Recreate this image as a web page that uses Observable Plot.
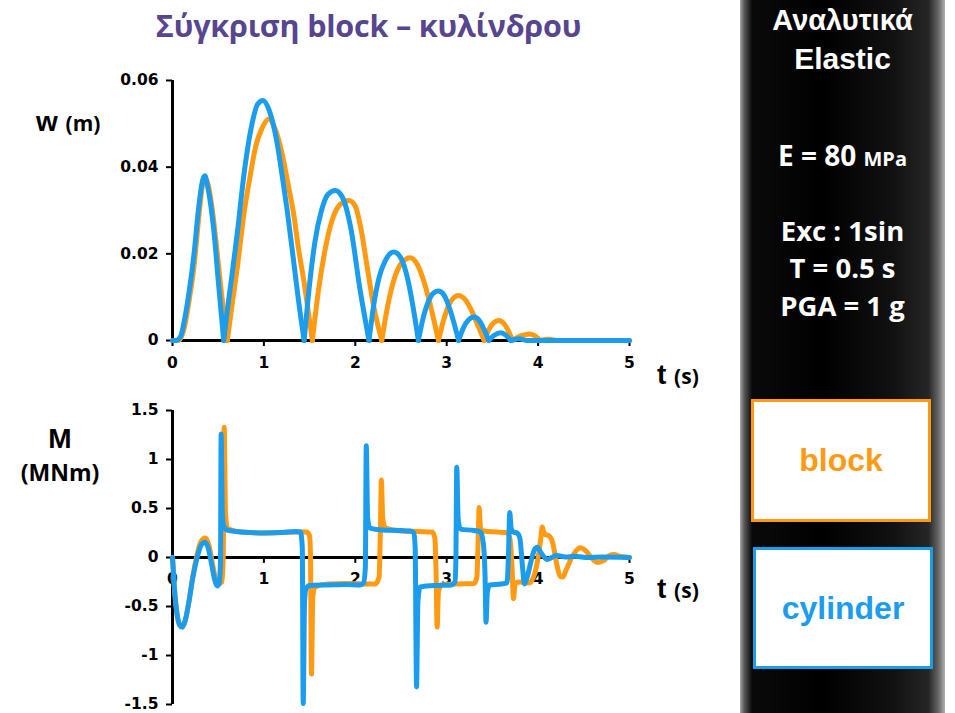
<!DOCTYPE html>
<html>
<head>
<meta charset="utf-8">
<script src="https://cdn.jsdelivr.net/npm/d3@7"></script>
<script src="https://cdn.jsdelivr.net/npm/@observablehq/plot@0.6"></script>
<style>
  html, body { margin: 0; padding: 0; background: #fff; }
  #page { position: relative; width: 955px; height: 713px; overflow: hidden; background: #fff; }
  .abs { position: absolute; white-space: nowrap; }
  #title { left: 0; width: 737px; top: 4px; text-align: center; font-family: "Open Sans", "Noto Sans", sans-serif; font-weight: 700; font-size: 30.5px; color: #574590; letter-spacing: -0.2px; }
  .axlab { font-family: "Liberation Sans", Arial, sans-serif; font-weight: 700; color: #000; }
  .axlab .u { font-family: "Open Sans", sans-serif; font-size: 21px; }
  .plotwrap svg text { font-size: 15.5px; font-weight: 700; font-family: "DejaVu Sans", "Liberation Sans", Arial, sans-serif; fill: #000; }
  #panel { left: 740px; top: 0; width: 205px; height: 713px;
    background: linear-gradient(to right, #a8a8a8 0px, #5a5a5a 4px, #0a0a0a 12px, #000 40%, #111 75%, #262626 92%, #6a6a6a 97%, #b0b0b0 100%); }
  .ptxt { position: absolute; left: 0; width: 205px; text-align: center; color: #fff; font-weight: 700; white-space: nowrap; }
  .arial { font-family: "Liberation Sans", Arial, sans-serif; }
  .cal { font-family: "Open Sans", "Noto Sans", sans-serif; }
  .box { position: absolute; background: #fff; box-sizing: border-box; border: 3px solid; display: flex; align-items: center; justify-content: center; font-family: "Liberation Sans", Arial, sans-serif; font-weight: 700; font-size: 32px; }
</style>
</head>
<body>
<div id="page">
  <div id="title" class="abs">Σύγκριση block – κυλίνδρου</div>

  <div id="topPlot" class="abs plotwrap" style="left:0; top:60px;"></div>
  <div id="botPlot" class="abs plotwrap" style="left:0; top:390px;"></div>

  <div class="abs axlab" style="left:36px; top:106px; font-size:28px;">w <span class="u">(m)</span></div>
  <div class="abs axlab" style="left:657px; top:359px; font-size:28px;">t <span class="u">(s)</span></div>
  <div class="abs axlab" style="left:657px; top:573px; font-size:28px;">t <span class="u">(s)</span></div>
  <div class="abs axlab" style="left:0; width:120px; text-align:center; top:423px; font-size:28px;">M</div>
  <div class="abs axlab" style="left:0; width:120px; text-align:center; top:456px;"><span class="u" style="font-size:23px;">(MNm)</span></div>

  <div id="panel" class="abs">
    <div class="ptxt arial" style="top:4px; font-size:29px;">Αναλυτικά</div>
    <div class="ptxt arial" style="top:42px; font-size:30px;">Elastic</div>
    <div class="ptxt cal" style="top:136px; font-size:28px;">E = 80 <span style="font-size:20px;">MPa</span></div>
    <div class="ptxt cal" style="top:212px; font-size:27.5px;">Exc : 1sin</div>
    <div class="ptxt cal" style="top:249px; font-size:27.5px;">T = 0.5 s</div>
    <div class="ptxt cal" style="top:287px; font-size:27.5px;">PGA = 1 g</div>
  </div>
  <div id="boxBlock" class="box" style="left:751px; top:399px; width:180px; height:123px;"></div>
  <div id="boxCyl" class="box" style="left:753px; top:547px; width:180px; height:122px;"></div>
</div>

<script>
// ---------- data ----------
const seriesNames = ["block", "cylinder"];
const seriesColors = ["#FF9A12", "#1C9CEC"];

const xTicks = [0, 1, 2, 3, 4, 5];
const xTickLabels = ["0", "1", "2", "3", "4", "5"];
const wTicks = [0, 0.02, 0.04, 0.06];
const wTickLabels = ["0", "0.02", "0.04", "0.06"];
const mTicks = [-1.5, -1, -0.5, 0, 0.5, 1, 1.5];
const mTickLabels = ["-1.5", "-1", "-0.5", "0", "0.5", "1", "1.5"];

// displacement w (m) — each inner list is one rocking half-cycle (arch)
const blockW = [
  [[0,0],[0.06,0],[0.1,0.001],[0.13,0.003],[0.18,0.009],[0.24,0.018],[0.29,0.029],[0.33,0.036],[0.36,0.0375],[0.39,0.036],[0.43,0.031],[0.47,0.024],[0.53,0.012],[0.60,0]],
  [[0.60,0],[0.65,0.008],[0.71,0.017],[0.78,0.029],[0.85,0.038],[0.908,0.0446],[0.98,0.049],[1.054,0.0511],[1.12,0.049],[1.2,0.043],[1.265,0.036],[1.327,0.029],[1.38,0.021],[1.437,0.0138],[1.49,0.006],[1.53,0]],
  [[1.53,0],[1.6,0.012],[1.67,0.021],[1.75,0.028],[1.84,0.0315],[1.93,0.0323],[2.0,0.031],[2.06,0.026],[2.13,0.017],[2.2,0.008],[2.29,0]],
  [[2.29,0],[2.35,0.0075],[2.42,0.0138],[2.51,0.018],[2.60,0.0191],[2.68,0.0175],[2.76,0.013],[2.84,0.0065],[2.91,0]],
  [[2.91,0],[2.97,0.005],[3.03,0.0085],[3.13,0.0104],[3.2,0.0095],[3.27,0.007],[3.34,0.0035],[3.41,0]],
  [[3.41,0],[3.46,0.0025],[3.51,0.004],[3.57,0.0046],[3.63,0.0038],[3.68,0.002],[3.72,0]],
  [[3.72,0],[3.78,0.0008],[3.85,0.0013],[3.91,0.0015],[3.97,0.001],[4.02,0]],
  [[4.02,0],[4.12,0.0003],[4.22,0],[5,0]]
];
const cylinderW = [
  [[0,0],[0.04,0],[0.09,0.001],[0.124,0.004],[0.18,0.011],[0.233,0.0195],[0.288,0.031],[0.33,0.037],[0.354,0.038],[0.38,0.036],[0.42,0.031],[0.452,0.0254],[0.507,0.0123],[0.56,0]],
  [[0.56,0],[0.6,0.007],[0.65,0.015],[0.71,0.025],[0.78,0.038],[0.87,0.050],[0.93,0.0545],[0.99,0.0554],[1.06,0.053],[1.145,0.0455],[1.2,0.038],[1.255,0.030],[1.327,0.018],[1.38,0.009],[1.44,0]],
  [[1.44,0],[1.5,0.013],[1.56,0.023],[1.63,0.030],[1.7,0.0337],[1.78,0.0346],[1.86,0.033],[1.95,0.026],[2.05,0.012],[2.15,0]],
  [[2.15,0],[2.2,0.008],[2.26,0.0145],[2.33,0.0185],[2.42,0.0204],[2.5,0.019],[2.57,0.0145],[2.63,0.008],[2.69,0]],
  [[2.69,0],[2.74,0.005],[2.8,0.009],[2.86,0.011],[2.91,0.0114],[2.97,0.0105],[3.03,0.0075],[3.08,0.004],[3.13,0]],
  [[3.13,0],[3.18,0.0028],[3.24,0.0048],[3.30,0.0054],[3.36,0.0045],[3.41,0.0025],[3.46,0]],
  [[3.46,0],[3.52,0.0012],[3.59,0.0018],[3.65,0.0012],[3.70,0]],
  [[3.70,0],[3.79,0.0004],[3.88,0],[5,0]]
];

// moment M (MNm)
const blockM = [
  [0,0],[0.02,-0.3],[0.05,-0.58],[0.08,-0.69],[0.106,-0.71],[0.14,-0.64],[0.18,-0.45],[0.22,-0.2],[0.27,0.03],[0.31,0.16],[0.36,0.2],[0.4,0.12],[0.44,-0.08],[0.48,-0.24],[0.5,-0.27],[0.54,-0.25],[0.555,0],[0.565,1.33],[0.58,0.45],[0.6,0.3],[0.7,0.265],[0.85,0.255],[1.0,0.25],[1.2,0.255],[1.4,0.26],[1.47,0.26],[1.5,0.22],[1.51,0],[1.52,-1.19],[1.535,-0.4],[1.56,-0.3],[1.7,-0.27],[1.9,-0.265],[2.1,-0.27],[2.22,-0.27],[2.26,-0.2],[2.275,0.3],[2.285,0.79],[2.3,0.4],[2.33,0.3],[2.5,0.27],[2.7,0.265],[2.84,0.26],[2.87,0.2],[2.885,-0.2],[2.895,-0.71],[2.91,-0.35],[2.94,-0.28],[3.1,-0.27],[3.3,-0.265],[3.33,-0.2],[3.345,0.2],[3.355,0.51],[3.37,0.3],[3.4,0.27],[3.55,0.26],[3.65,0.255],[3.69,0.2],[3.715,-0.1],[3.73,-0.42],[3.75,-0.26],[3.8,-0.25],[3.9,-0.26],[3.95,-0.2],[4.0,0.0],[4.03,0.2],[4.045,0.31],[4.07,0.24],[4.12,0.22],[4.16,0.15],[4.2,-0.05],[4.24,-0.19],[4.27,-0.2],[4.31,-0.12],[4.38,0.02],[4.46,0.1],[4.52,0.07],[4.58,0.0],[4.65,-0.05],[4.72,-0.03],[4.78,0.02],[4.83,0.03],[4.9,0.01],[5.0,0]
];
const cylinderM = [
  [0,0],[0.02,-0.3],[0.05,-0.58],[0.08,-0.69],[0.106,-0.71],[0.14,-0.64],[0.18,-0.45],[0.22,-0.22],[0.27,0],[0.31,0.12],[0.354,0.155],[0.39,0.1],[0.43,-0.08],[0.46,-0.22],[0.49,-0.29],[0.51,-0.26],[0.525,-0.05],[0.532,1.26],[0.545,0.45],[0.56,0.32],[0.6,0.28],[0.7,0.265],[0.85,0.255],[1.0,0.25],[1.2,0.255],[1.35,0.265],[1.4,0.26],[1.42,0.1],[1.43,-1.49],[1.445,-0.45],[1.46,-0.32],[1.5,-0.285],[1.7,-0.28],[1.9,-0.275],[2.05,-0.28],[2.09,-0.26],[2.11,-0.1],[2.12,1.14],[2.135,0.4],[2.16,0.3],[2.3,0.28],[2.5,0.275],[2.6,0.27],[2.64,0.25],[2.655,0.1],[2.67,-1.32],[2.685,-0.45],[2.71,-0.3],[2.9,-0.285],[3.05,-0.28],[3.09,-0.25],[3.1,-0.05],[3.11,0.92],[3.125,0.4],[3.15,0.29],[3.3,0.275],[3.37,0.26],[3.4,0.15],[3.42,-0.2],[3.43,-0.66],[3.445,-0.35],[3.47,-0.28],[3.6,-0.27],[3.66,-0.26],[3.675,0],[3.69,0.46],[3.705,0.3],[3.73,0.26],[3.77,0.25],[3.8,0.2],[3.83,-0.1],[3.85,-0.27],[3.88,-0.2],[3.92,-0.05],[3.96,0.08],[3.99,0.105],[4.03,0.05],[4.07,0.0],[4.1,-0.02],[4.15,0.0],[4.2,0.02],[4.3,0.005],[4.4,0.012],[4.55,0.0],[4.7,0.005],[5.0,0]
];

// ---------- build tables ----------
const toArchRows = (arches) => arches.flatMap((arch, k) => arch.map(([t, v]) => ({t, v, arch: k})));
const toRows = (pts) => pts.map(([t, v]) => ({t, v}));

const bW = toArchRows(blockW), cW = toArchRows(cylinderW);
const bM = toRows(blockM), cM = toRows(cylinderM);

const tickFont = {fontSize: 15.5, fontWeight: "bold"};
const plotStyle = {background: "transparent", overflow: "visible", fontFamily: "'DejaVu Sans', Arial, sans-serif", fontWeight: "bold", fontSize: "15.5px", color: "#000"};
const lineW = 5;

// ---------- top chart: w ----------
const topChart = Plot.plot({
  width: 660, height: 320,
  marginLeft: 172, marginRight: 31, marginTop: 20, marginBottom: 40,
  style: plotStyle,
  x: {domain: [0, 5], axis: null},
  y: {domain: [0, 0.06], axis: null},
  marks: [
    Plot.axisY(wTicks, {tickSize: 6, tickPadding: 8, strokeWidth: 2, ...tickFont,
      tickFormat: d => wTickLabels[wTicks.indexOf(d)], label: null}),
    Plot.axisX(xTicks, {tickSize: 6, tickPadding: 10, strokeWidth: 2, ...tickFont,
      tickFormat: d => xTickLabels[xTicks.indexOf(d)], label: null}),
    Plot.ruleX([0], {stroke: "#000", strokeWidth: 3}),
    Plot.ruleY([0], {stroke: "#000", strokeWidth: 3}),
    Plot.line(bW, {x: "t", y: "v", z: "arch", stroke: seriesColors[0], strokeWidth: lineW, curve: "monotone-x"}),
    Plot.line(cW, {x: "t", y: "v", z: "arch", stroke: seriesColors[1], strokeWidth: lineW, curve: "monotone-x"})
  ]
});
document.getElementById("topPlot").appendChild(topChart);

// ---------- bottom chart: M ----------
const botChart = Plot.plot({
  width: 660, height: 330,
  marginLeft: 172, marginRight: 31, marginTop: 20, marginBottom: 16,
  style: plotStyle,
  x: {domain: [0, 5], axis: null},
  y: {domain: [-1.5, 1.5], axis: null},
  marks: [
    Plot.axisY(mTicks, {tickSize: 6, tickPadding: 8, strokeWidth: 2, ...tickFont,
      tickFormat: d => mTickLabels[mTicks.indexOf(d)], label: null}),
    Plot.ruleX(xTicks, {x: d => d, y1: 0, y2: -0.06, stroke: "#000", strokeWidth: 2}),
    Plot.text(xTicks, {x: d => d, y: 0, dy: 22, text: d => xTickLabels[xTicks.indexOf(d)], ...tickFont, fill: "#000"}),
    Plot.ruleX([0], {stroke: "#000", strokeWidth: 3}),
    Plot.ruleY([0], {stroke: "#000", strokeWidth: 3}),
    Plot.line(bM, {x: "t", y: "v", stroke: seriesColors[0], strokeWidth: lineW, curve: "monotone-x"}),
    Plot.line(cM, {x: "t", y: "v", stroke: seriesColors[1], strokeWidth: lineW, curve: "monotone-x"})
  ]
});
document.getElementById("botPlot").appendChild(botChart);

// ---------- legend boxes ----------
const bb = document.getElementById("boxBlock");
bb.textContent = seriesNames[0]; bb.style.borderColor = seriesColors[0]; bb.style.color = seriesColors[0];
const bc = document.getElementById("boxCyl");
bc.textContent = seriesNames[1]; bc.style.borderColor = seriesColors[1]; bc.style.color = seriesColors[1];
</script>
</body>
</html>
